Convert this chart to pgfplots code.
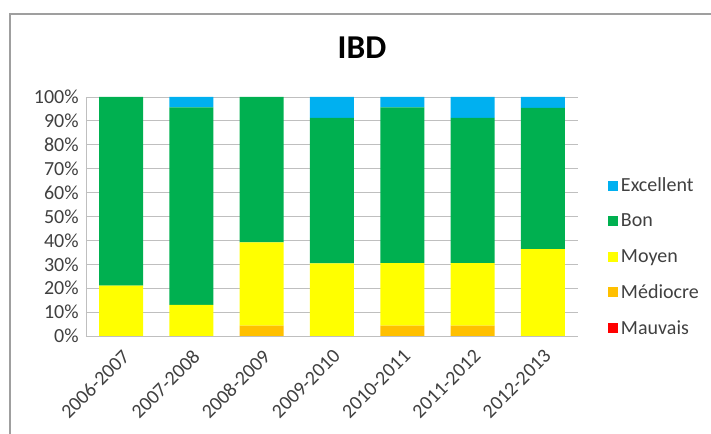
\documentclass[border=0pt]{standalone}
\usepackage{pgfplots}
\pgfplotsset{compat=1.18}
\usepackage{fontspec}
\setmainfont{Carlito}
\definecolor{cExc}{HTML}{00B0F0}
\definecolor{cBon}{HTML}{00B050}
\definecolor{cMoy}{HTML}{FFFF00}
\definecolor{cMed}{HTML}{FFC000}
\definecolor{cMau}{HTML}{FF0000}
\definecolor{txt}{HTML}{404040}
\definecolor{gridc}{HTML}{BFBFBF}
\pgfplotsset{sq/.style={legend image code/.code={\fill[##1,draw=none] (0pt,-3.7pt) rectangle (7.5pt,3.8pt);}}}
\begin{document}
\begin{tikzpicture}[x=0.75pt,y=0.75pt]
\useasboundingbox (0,0) rectangle (711,434);
\draw[gray!75, line width=1.2pt] (10,0) -- (10,420) -- (711,420);
\node[font=\fontsize{25}{28}\selectfont\bfseries] at (362,386) {IBD};
\begin{axis}[
  at={(64.5pt,73.5pt)}, anchor=south west,
  scale only axis, width=369pt, height=179.25pt,
  ybar stacked, bar width=33pt,
  xmin=-0.5, xmax=6.5, ymin=0, ymax=100,
  xtick={0,1,2,3,4,5,6},
  xticklabels={2006-2007,2007-2008,2008-2009,2009-2010,2010-2011,2011-2012,2012-2013},
  ytick={0,10,...,100},
  yticklabel={\pgfmathprintnumber{\tick}\%},
  /pgf/number format/assume math mode=true,
  major tick length=0pt,
  ymajorgrids, grid style={gridc, line width=0.6pt},
  axis x line*=bottom, axis y line*=left,
  axis line style={gridc, line width=0.6pt},
  x axis line style={-}, y axis line style={-},
  tick label style={font=\fontsize{15}{17}\selectfont, text=txt},
  xticklabel style={rotate=45, anchor=north east, xshift=-3pt, yshift=-3pt},
  yticklabel style={xshift=-2pt},
  legend style={at={(1.053,0.33)}, anchor=west, draw=none, fill=none,
    font=\fontsize{15}{17}\selectfont, text=txt, row sep=11.2pt,
    cells={anchor=west}},
  legend cell align=left,
  reverse legend,
]
\addplot[fill=cMau, draw=none, sq] coordinates {(0,0) (1,0) (2,0) (3,0) (4,0) (5,0) (6,0)};
\addplot[fill=cMed, draw=none, sq] coordinates {(0,0) (1,0) (2,4.35) (3,0) (4,4.35) (5,4.35) (6,0)};
\addplot[fill=cMoy, draw=none, sq] coordinates {(0,21.05) (1,13.04) (2,34.78) (3,30.43) (4,26.09) (5,26.09) (6,36.36)};
\addplot[fill=cBon, draw=none, sq] coordinates {(0,78.95) (1,82.61) (2,60.87) (3,60.87) (4,65.22) (5,60.87) (6,59.09)};
\addplot[fill=cExc, draw=none, sq] coordinates {(0,0) (1,4.35) (2,0) (3,8.70) (4,4.35) (5,8.70) (6,4.55)};
\legend{Mauvais,Médiocre,Moyen,Bon,Excellent}
\end{axis}
\end{tikzpicture}
\end{document}
